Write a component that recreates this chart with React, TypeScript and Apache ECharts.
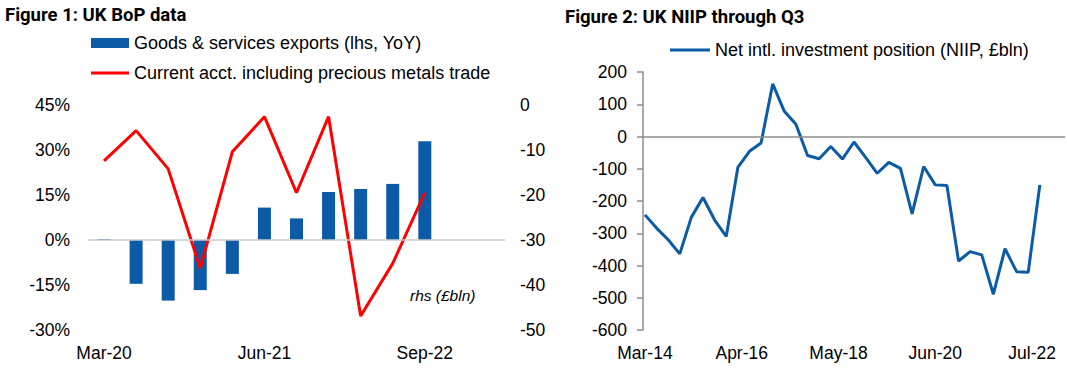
import React, { useEffect, useRef } from "react";
import * as echarts from "echarts";

// ---------- Figure 1 data ----------
const bopCategories = [
  "Mar-20", "Jun-20", "Sep-20", "Dec-20", "Mar-21", "Jun-21", "Sep-21",
  "Dec-21", "Mar-22", "Jun-22", "Sep-22", "Dec-22", "Mar-23",
];
const exportsYoY = [0.3, -14.6, -20.2, -16.7, -11.3, 10.8, 7.2, 16.0, 17.0, 18.7, 32.9, null, null];
const currentAcct = [-12.4, -5.7, -14.2, -36.3, -10.4, -2.6, -19.5, -2.6, -46.9, -35.2, -19.5, null, null];

// ---------- Figure 2 data ----------
const niipQuarters = [
  "Mar-14", "Jun-14", "Sep-14", "Dec-14",
  "Mar-15", "Jun-15", "Sep-15", "Dec-15",
  "Mar-16", "Jun-16", "Sep-16", "Dec-16",
  "Mar-17", "Jun-17", "Sep-17", "Dec-17",
  "Mar-18", "Jun-18", "Sep-18", "Dec-18",
  "Mar-19", "Jun-19", "Sep-19", "Dec-19",
  "Mar-20", "Jun-20", "Sep-20", "Dec-20",
  "Mar-21", "Jun-21", "Sep-21", "Dec-21",
  "Mar-22", "Jun-22", "Sep-22",
];
const niipValues = [
  -243, -284, -320, -364,
  -250, -189, -259, -310,
  -96, -46, -20, 163,
  78, 38, -59, -69,
  -31, -70, -17, -65,
  -114, -80, -99, -240,
  -93, -150, -152, -386,
  -357, -367, -489, -348,
  -419, -421, -150,
];

const monthNames = ["Jan", "Feb", "Mar", "Apr", "May", "Jun", "Jul", "Aug", "Sep", "Oct", "Nov", "Dec"];
function buildMonths(startYear: number, startMonth: number, count: number) {
  const out: string[] = [];
  for (let i = 0; i < count; i++) {
    const m = (startMonth + i) % 12;
    const y = startYear + Math.floor((startMonth + i) / 12);
    out.push(`${monthNames[m]}-${String(y % 100).padStart(2, "0")}`);
  }
  return out;
}
const niipMonths = buildMonths(2014, 2, 109);

const FONT = "Liberation Sans, Arial, sans-serif";
const TITLE_FONT = "Roboto, sans-serif";
const BLUE = "#0B5BA6";
const RED = "#ff0000";

const S1 = "Goods & services exports (lhs, YoY)";
const S2 = "Current acct. including precious metals trade";
const S3 = "Net intl. investment position (NIIP, £bln)";

export default function App() {
  const ref = useRef<HTMLDivElement>(null);

  useEffect(() => {
    if (!ref.current) return;
    const chart = echarts.init(ref.current, undefined, { renderer: "svg" });
    const labelStyle = { color: "#000", fontSize: 17.5, fontFamily: FONT };
    const legendText = { color: "#000", fontSize: 18, fontFamily: FONT };
    const titleText = { fontSize: 18.5, fontWeight: "bold", fontFamily: TITLE_FONT, color: "#000" };

    chart.setOption({
      animation: false,
      backgroundColor: "#fff",
      title: [
        { text: "Figure 1: UK BoP data", left: 0, top: 0, textStyle: titleText },
        { text: "Figure 2: UK NIIP through Q3", left: 560, top: 2, textStyle: titleText },
      ],
      legend: [
        {
          left: 86,
          top: 29,
          itemWidth: 38,
          itemHeight: 10,
          data: [{ name: S1, icon: "rect" }],
          textStyle: legendText,
        },
        {
          left: 86,
          top: 59,
          itemWidth: 38,
          itemHeight: 3,
          data: [{ name: S2, icon: "rect" }],
          textStyle: legendText,
        },
        {
          left: 665,
          top: 36,
          itemWidth: 40,
          itemHeight: 3,
          data: [{ name: S3, icon: "rect" }],
          textStyle: legendText,
        },
      ],
      grid: [
        { left: 88, width: 417, top: 105, height: 225 },
        { left: 643, width: 422, top: 72, height: 258 },
      ],
      xAxis: [
        {
          type: "category",
          gridIndex: 0,
          data: bopCategories,
          boundaryGap: true,
          axisLine: { show: false },
          axisTick: { show: false },
          axisLabel: { ...labelStyle, interval: 4, margin: 14 },
        },
        {
          type: "category",
          gridIndex: 1,
          data: niipMonths,
          boundaryGap: true,
          axisLine: { show: false },
          axisTick: { show: false },
          axisLabel: { ...labelStyle, interval: 24, margin: 14 },
        },
      ],
      yAxis: [
        {
          type: "value",
          gridIndex: 0,
          min: -30,
          max: 45,
          interval: 15,
          axisLine: { show: false },
          axisTick: { show: false },
          splitLine: { show: false },
          axisLabel: { ...labelStyle, margin: 18, formatter: "{value}%" },
        },
        {
          type: "value",
          gridIndex: 0,
          position: "right",
          min: -50,
          max: 0,
          interval: 10,
          axisLine: { show: false },
          axisTick: { show: false },
          splitLine: { show: false },
          axisLabel: { ...labelStyle, margin: 15 },
        },
        {
          type: "value",
          gridIndex: 1,
          min: -600,
          max: 200,
          interval: 100,
          axisLine: { show: true, lineStyle: { color: "#8c8c8c", width: 1.5 } },
          axisTick: { show: true, length: 6, lineStyle: { color: "#8c8c8c", width: 1.5 } },
          splitLine: { show: false },
          axisLabel: { ...labelStyle, margin: 16 },
        },
      ],
      graphic: [
        {
          type: "text",
          left: 410,
          top: 287,
          style: {
            text: "rhs (£bln)",
            fontSize: 15.5,
            fontStyle: "italic",
            fontFamily: FONT,
            fill: "#000",
          },
        },
      ],
      series: [
        {
          name: S1,
          type: "bar",
          xAxisIndex: 0,
          yAxisIndex: 0,
          data: exportsYoY,
          barWidth: 13,
          itemStyle: { color: BLUE },
          markLine: {
            silent: true,
            symbol: "none",
            label: { show: false },
            lineStyle: { color: "#c8c8c8", width: 1.5, type: "solid" },
            data: [{ yAxis: 0 }],
          },
          z: 2,
        },
        {
          name: S2,
          type: "line",
          xAxisIndex: 0,
          yAxisIndex: 1,
          data: currentAcct,
          symbol: "none",
          lineStyle: { color: RED, width: 3 },
          itemStyle: { color: RED },
          z: 3,
        },
        {
          name: S3,
          type: "line",
          xAxisIndex: 1,
          yAxisIndex: 2,
          data: niipQuarters.map((q, i) => [q, niipValues[i]]),
          symbol: "none",
          lineStyle: { color: BLUE, width: 3 },
          itemStyle: { color: BLUE },
          markLine: {
            silent: true,
            symbol: "none",
            label: { show: false },
            lineStyle: { color: "#8c8c8c", width: 1.5, type: "solid" },
            data: [{ yAxis: 0 }],
          },
          z: 3,
        },
      ],
    });

    return () => chart.dispose();
  }, []);

  return (
    <div
      ref={ref}
      style={{ position: "absolute", left: 0, top: 0, width: 1067, height: 369 }}
    />
  );
}
